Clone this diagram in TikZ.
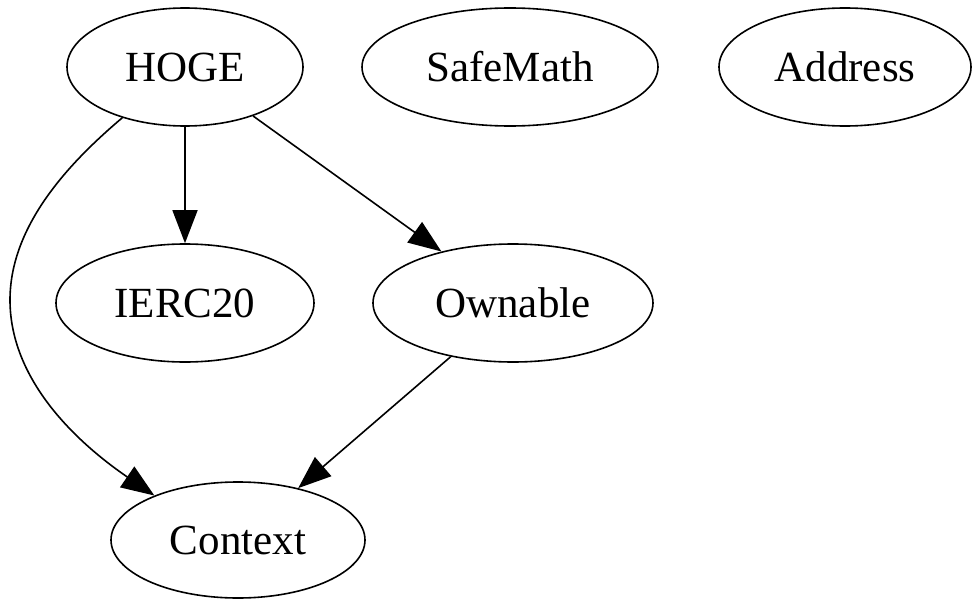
\documentclass[tikz,border=0pt]{standalone}
\usepackage{fontspec}
\setmainfont{Liberation Serif}
\usetikzlibrary{shapes.geometric,arrows.meta}
\begin{document}
\begin{tikzpicture}[x=1pt,y=-1pt,
  gnode/.style={ellipse,draw,line width=1.6pt,inner sep=0pt,font=\fontsize{43}{43}\selectfont},
  edge/.style={line width=1.6pt,-{Triangle[length=33pt,width=25pt]}}]
\useasboundingbox (0,0) rectangle (972,602);
\node[gnode,minimum width=236pt,minimum height=118pt] (hoge) at (185,67) {HOGE};
\node[gnode,minimum width=296pt,minimum height=118pt] (safemath) at (510,67) {SafeMath};
\node[gnode,minimum width=252pt,minimum height=118pt] (address) at (845,67) {Address};
\node[gnode,minimum width=258pt,minimum height=118pt] (ierc) at (185,303) {IERC20};
\node[gnode,minimum width=280pt,minimum height=118pt] (ownable) at (513,303) {Ownable};
\node[gnode,minimum width=254pt,minimum height=116pt] (context) at (238,540) {Context};
\draw[edge] (hoge) -- (ierc);
\draw[edge] (hoge) -- (ownable);
\draw[edge] (ownable) -- (context);
\draw[edge] (hoge.219) .. controls (70,162) and (10,225) .. (10,300) .. controls (10,385) and (85,448) .. (context.152);
\end{tikzpicture}
\end{document}
